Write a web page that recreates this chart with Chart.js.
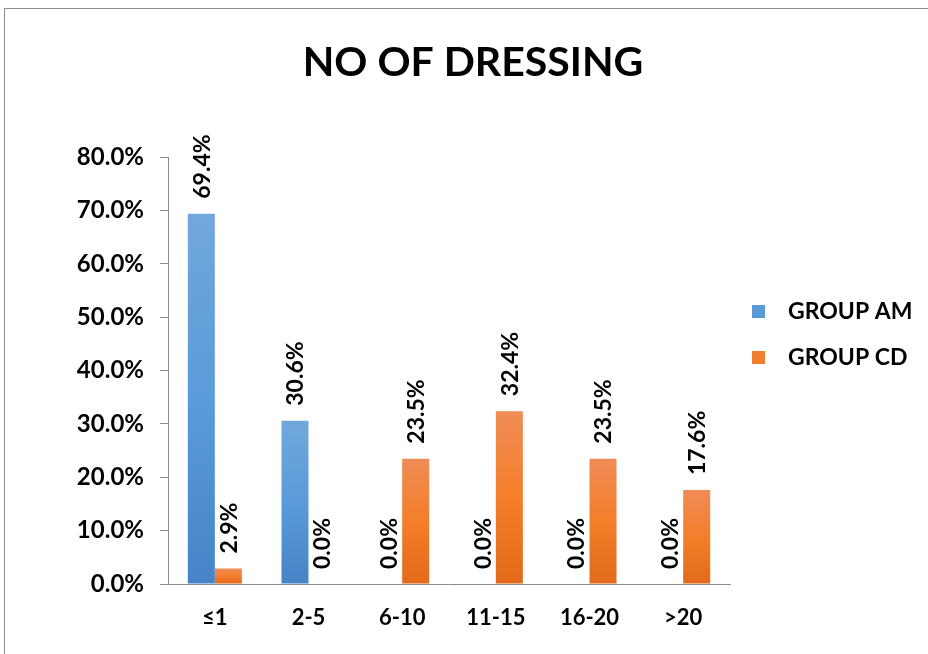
<!DOCTYPE html>
<html>
<head>
<meta charset="utf-8">
<script src="https://cdn.jsdelivr.net/npm/chart.js@4"></script>
<style>
  html, body { margin: 0; padding: 0; background: #fff; overflow: hidden; }
  #frame { position: absolute; left: 4px; top: 8px; width: 1000px; height: 1000px; border: 1px solid #8c8c8c; }
  #wrap { position: absolute; left: 0; top: 0; width: 928px; height: 654px; }
</style>
</head>
<body>
<div id="frame"></div>
<div id="wrap"><canvas id="myChart"></canvas></div>
<script>
// categories and series (percent)
const categories = ['≤1', '2-5', '6-10', '11-15', '16-20', '>20'];
const groupAM = [69.4, 30.6, 0.0, 0.0, 0.0, 0.0];
const groupCD = [2.9, 0.0, 23.5, 32.4, 23.5, 17.6];
const yTicks = [0, 10, 20, 30, 40, 50, 60, 70, 80];

const FONT = 'Lato, "Open Sans", sans-serif';

// vertical gradient per bar, light on top like the Excel fill
function barFill(stops, flat) {
  return function(c) {
    const chart = c.chart;
    const y = chart.scales.y;
    if (!chart.chartArea || !y) return flat;
    const top = y.getPixelForValue(c.raw);
    const bottom = y.getPixelForValue(0);
    if (!(bottom - top > 0.5)) return flat;
    const g = chart.ctx.createLinearGradient(0, top, 0, bottom);
    g.addColorStop(0, stops[0]);
    g.addColorStop(0.5, stops[1]);
    g.addColorStop(1, stops[2]);
    return g;
  };
}

// rotated value labels above each bar
const valueLabels = {
  id: 'valueLabels',
  afterDatasetsDraw(chart) {
    const ctx = chart.ctx;
    ctx.save();
    ctx.font = 'bold 23px ' + FONT;
    ctx.fillStyle = '#000';
    ctx.textAlign = 'left';
    ctx.textBaseline = 'middle';
    chart.data.datasets.forEach((ds, i) => {
      const meta = chart.getDatasetMeta(i);
      meta.data.forEach((bar, j) => {
        ctx.save();
        ctx.translate(bar.x + 1, bar.y - 15);
        ctx.rotate(-Math.PI / 2);
        ctx.fillText(ds.data[j].toFixed(1) + '%', 0, 0);
        ctx.restore();
      });
    });
    ctx.restore();
  }
};

// legend on the right, square markers
const sideLegend = {
  id: 'sideLegend',
  afterDraw(chart) {
    const ctx = chart.ctx;
    const swatch = ['#5b9bd5', '#f07f30'];
    ctx.save();
    ctx.font = 'bold 23px ' + FONT;
    ctx.textBaseline = 'middle';
    chart.data.datasets.forEach((ds, i) => {
      const cy = 311 + i * 46;
      ctx.fillStyle = swatch[i];
      ctx.fillRect(752, cy - 6, 13, 13);
      ctx.fillStyle = '#000';
      ctx.fillText(ds.label, 788, cy + 1);
    });
    ctx.restore();
  }
};

// title is centred on the whole frame, not only on the plot side
const titleSpan = {
  id: 'titleSpan',
  afterLayout(chart) {
    if (chart.titleBlock) {
      chart.titleBlock.left = 0;
      chart.titleBlock.right = 946;
      chart.titleBlock.width = 946;
    }
  }
};

const data = {
  labels: categories,
  datasets: [{
    label: 'GROUP AM',
    data: groupAM,
    backgroundColor: barFill(['#72a7dd', '#5a9bd9', '#4585c7'], '#5b9bd5'),
    borderWidth: 0
  }, {
    label: 'GROUP CD',
    data: groupCD,
    backgroundColor: barFill(['#ef8c56', '#f47e2a', '#e26a1a'], '#f07f30'),
    borderWidth: 0
  }]
};

const config = {
  type: 'bar',
  data: data,
  options: {
    responsive: true,
    maintainAspectRatio: false,
    animation: false,
    layout: { padding: { left: 0, right: 198, top: 0, bottom: 0 } },
    datasets: { bar: { barPercentage: 1.0, categoryPercentage: 0.577 } },
    plugins: {
      legend: { display: false },
      tooltip: { enabled: false },
      title: {
        display: true,
        text: 'NO OF DRESSING',
        color: '#000',
        font: { family: FONT, size: 41, weight: 'bold', lineHeight: 1.2 },
        padding: { top: 38, bottom: 70 }
      }
    },
    scales: {
      x: {
        grid: { drawOnChartArea: false, drawTicks: false },
        border: { display: true, color: '#8c8c8c', width: 1 },
        ticks: { color: '#000', padding: 21, font: { family: FONT, size: 22, weight: 'bold' } },
        afterFit(scale) { scale.height = 70; }
      },
      y: {
        min: 0,
        max: 80,
        afterBuildTicks(scale) { scale.ticks = yTicks.map(v => ({ value: v })); },
        grid: { drawOnChartArea: false, drawTicks: true, tickLength: 8, color: '#8c8c8c' },
        border: { display: true, color: '#8c8c8c', width: 1 },
        ticks: {
          color: '#000',
          padding: 16,
          font: { family: FONT, size: 24, weight: 'bold' },
          callback: v => v.toFixed(1) + '%'
        },
        afterFit(scale) { scale.width = 168; }
      }
    }
  },
  plugins: [valueLabels, sideLegend, titleSpan]
};

var myChart = new Chart(document.getElementById('myChart'), config);
</script>
</body>
</html>
